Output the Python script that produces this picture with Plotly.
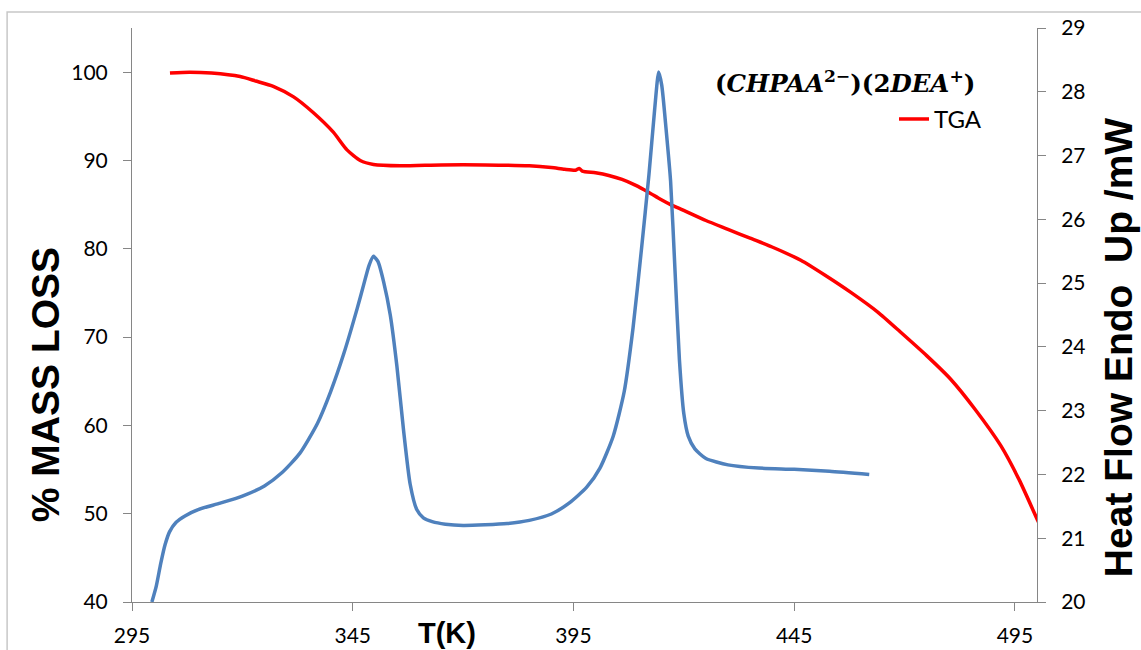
import plotly.graph_objects as go

# TGA (left axis, % mass)
tga_T = [303.6, 308, 313, 319.5, 323, 327, 331.6, 336.1, 340.6, 343.7, 346.7, 349.7, 355.8,
         365, 375, 385, 390, 393, 395.5, 396.3, 397, 400, 403, 406, 409, 412, 414.7, 417, 419.3,
         425, 430, 435, 440, 446.5, 452, 458, 464, 469, 475, 480.5, 486, 491.8, 496, 500.2, 502]
tga_mass = [99.9, 100.0, 99.9, 99.5, 99.0, 98.4, 97.2, 95.4, 93.2, 91.2, 90.0, 89.55, 89.4,
            89.5, 89.5, 89.4, 89.2, 89.0, 88.9, 89.1, 88.8, 88.6, 88.3, 87.85, 87.2, 86.4, 85.6,
            85.0, 84.5, 83.2, 82.2, 81.2, 80.2, 78.7, 77.0, 75.0, 72.8, 70.6, 67.9, 65.2, 61.8,
            57.7, 53.8, 49.2, 47.3]

# DSC heat flow (right axis, mW)
dsc_T = [299.5, 300.5, 301.5, 302.5, 303.5, 305, 307, 310, 315, 320, 325, 329, 333, 337, 340,
         343, 346, 347.5, 348.7, 349.7, 350.7, 352, 353.5, 355, 356.5, 358, 359.5, 361, 363, 366,
         370, 375, 380, 385, 390, 394, 398, 401, 404, 406.5, 408.5, 410.4, 412.1, 413.4, 414.3,
         415, 416, 417, 418, 419, 420, 421, 422.5, 425, 430, 437, 445, 453, 462]
dsc_hf = [20.0, 20.25, 20.6, 20.9, 21.1, 21.25, 21.35, 21.45, 21.55, 21.66, 21.82, 22.03, 22.33,
          22.8, 23.3, 23.9, 24.6, 24.98, 25.28, 25.42, 25.34, 25.02, 24.5, 23.7, 22.7, 21.85,
          21.45, 21.32, 21.26, 21.22, 21.2, 21.21, 21.23, 21.28, 21.38, 21.55, 21.8, 22.1, 22.6,
          23.3, 24.3, 25.53, 26.7, 27.73, 28.31, 28.1, 27.4, 26.6, 25.2, 23.8, 22.95, 22.6, 22.4,
          22.25, 22.15, 22.1, 22.08, 22.05, 22.0]

x_ticks = [295, 345, 395, 445, 495]
left_ticks = [40, 50, 60, 70, 80, 90, 100]
right_ticks = list(range(20, 30))

AX = "#868686"
TICKFONT = dict(family="Lato, Carlito, Calibri, sans-serif", size=21, color="#000000")
TITLEFONT = "Liberation Sans, Arial, sans-serif"

fig = go.Figure()
fig.add_trace(go.Scatter(x=dsc_T, y=dsc_hf, mode="lines", yaxis="y2", showlegend=False,
                         name="DSC", line=dict(color="#4F81BD", width=3.5, shape="spline", smoothing=0.6)))
fig.add_trace(go.Scatter(x=tga_T, y=tga_mass, mode="lines", yaxis="y", name="TGA",
                         line=dict(color="#FF0000", width=3.5, shape="spline", smoothing=0.6)))

fig.update_layout(
    width=1141, height=650, autosize=False,
    margin=dict(l=132, r=104, t=28, b=48, autoexpand=False),
    paper_bgcolor="white", plot_bgcolor="white",
    xaxis=dict(range=[295, 500], tickvals=x_ticks, ticktext=[str(v) for v in x_ticks],
               showgrid=False, zeroline=False, showline=True, linecolor=AX, linewidth=1,
               ticks="outside", ticklen=8, tickcolor=AX, tickfont=TICKFONT, ticklabelstandoff=7,
               automargin=False),
    yaxis=dict(range=[40, 105], tickvals=left_ticks, showgrid=False, zeroline=False,
               showline=True, linecolor=AX, linewidth=1, ticks="outside", ticklen=8,
               tickcolor=AX, tickfont=TICKFONT, ticklabelstandoff=11, automargin=False),
    yaxis2=dict(range=[20, 29], tickvals=right_ticks, overlaying="y", side="right", anchor="x",
                showgrid=False, zeroline=False, showline=True, linecolor=AX, linewidth=1,
                ticks="outside", ticklen=8, tickcolor=AX, tickfont=TICKFONT, ticklabelstandoff=11,
                automargin=False),
    legend=dict(x=0.842, y=0.88, xanchor="left", yanchor="top", bgcolor="rgba(0,0,0,0)",
                font=dict(family="Lato, Carlito, Calibri, sans-serif", size=24, color="#000"),
                itemwidth=30),
    showlegend=True,
)

fig.add_annotation(text="<b>% MASS LOSS</b>", xref="paper", yref="paper", x=-0.096, y=0.378,
                   textangle=-90, showarrow=False, xanchor="center", yanchor="middle",
                   font=dict(family=TITLEFONT, size=39, color="#000"))
fig.add_annotation(text="<b>Heat Flow Endo\u00a0\u00a0Up /mW</b>", xref="paper", yref="paper",
                   x=1.0895, y=0.444, textangle=-90, showarrow=False, xanchor="center",
                   yanchor="middle", font=dict(family=TITLEFONT, size=39, color="#000"))
fig.add_annotation(text="<b>T(K)</b>", xref="paper", yref="paper", x=0.348, y=-0.054,
                   showarrow=False, xanchor="center", yanchor="middle",
                   font=dict(family=TITLEFONT, size=29, color="#000"))
fig.add_annotation(text="<b>(<i>CHPAA</i><sup>2−</sup>)(2<i>DEA</i><sup>+</sup>)</b>",
                   xref="paper", yref="paper", x=0.788, y=0.906, showarrow=False,
                   xanchor="center", yanchor="middle",
                   font=dict(family="DejaVu Serif, serif", size=24.5, color="#000"))

# outer chart-area frame
fig.add_shape(type="rect", xref="paper", yref="paper", x0=-0.138, x1=1.3, y0=-0.3, y1=1.028,
              line=dict(color="#C8C8C8", width=1.5), fillcolor="rgba(0,0,0,0)", layer="below")

fig.write_html("out.html", config={"displayModeBar": False, "responsive": False},
               post_script="document.body.style.margin='0';document.body.style.overflow='hidden';")
